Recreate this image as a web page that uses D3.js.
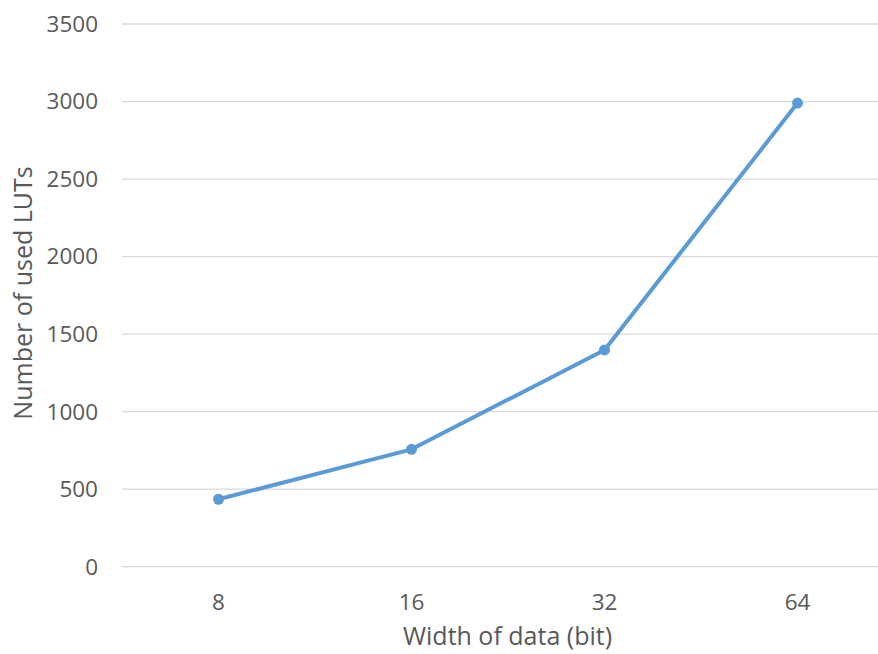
<!DOCTYPE html>
<html><head><meta charset="utf-8">
<script src="https://cdn.jsdelivr.net/npm/d3@7"></script>
<style>body{margin:0;background:#fff}svg{display:block}</style>
</head><body>
<script>
const categories = ["8", "16", "32", "64"];
const values = [435, 757, 1398, 2990];
const yTicks = [0, 500, 1000, 1500, 2000, 2500, 3000, 3500];
const xTitle = "Width of data (bit)";
const yTitle = "Number of used LUTs";

const W = 878, H = 654;
const font = "'Open Sans', sans-serif";
const svg = d3.select("body").append("svg").attr("width", W).attr("height", H);

const x = d3.scaleBand().domain(categories).range([122, 894]);
const y = d3.scaleLinear().domain([0, 3500]).range([566.7, 24]);

const g = svg.append("g");
g.selectAll("line.grid").data(yTicks).join("line")
  .attr("x1", 122).attr("x2", W)
  .attr("y1", d => y(d)).attr("y2", d => y(d))
  .attr("stroke", "#d9d9d9").attr("stroke-width", 1.3);

g.selectAll("text.yt").data(yTicks).join("text")
  .attr("x", 98).attr("y", d => y(d)).attr("dy", "0.35em")
  .attr("text-anchor", "end").attr("font-family", font).attr("font-size", 22.5)
  .attr("fill", "#595959").text(d => d);

g.selectAll("text.xt").data(categories).join("text")
  .attr("x", d => x(d) + x.bandwidth() / 2).attr("y", 602).attr("dy", "0.35em")
  .attr("text-anchor", "middle").attr("font-family", font).attr("font-size", 22.5)
  .attr("fill", "#595959").text(d => d);

svg.append("text").attr("x", 507.5).attr("y", 636).attr("dy", "0.35em")
  .attr("text-anchor", "middle").attr("font-family", font).attr("font-size", 25)
  .attr("fill", "#595959").text(xTitle);

svg.append("text").attr("transform", "translate(23,293) rotate(-90)").attr("dy", "0.35em")
  .attr("text-anchor", "middle").attr("font-family", font).attr("font-size", 25)
  .attr("fill", "#595959").text(yTitle);

const cx = (d, i) => x(categories[i]) + x.bandwidth() / 2;
const line = d3.line().x((d, i) => cx(d, i)).y(d => y(d));
svg.append("path").datum(values).attr("d", line)
  .attr("fill", "none").attr("stroke", "#5b9bd5").attr("stroke-width", 4)
  .attr("stroke-linejoin", "round");
svg.selectAll("circle").data(values).join("circle")
  .attr("cx", (d, i) => cx(d, i)).attr("cy", d => y(d)).attr("r", 5.5)
  .attr("fill", "#5b9bd5");
</script>
</body></html>
